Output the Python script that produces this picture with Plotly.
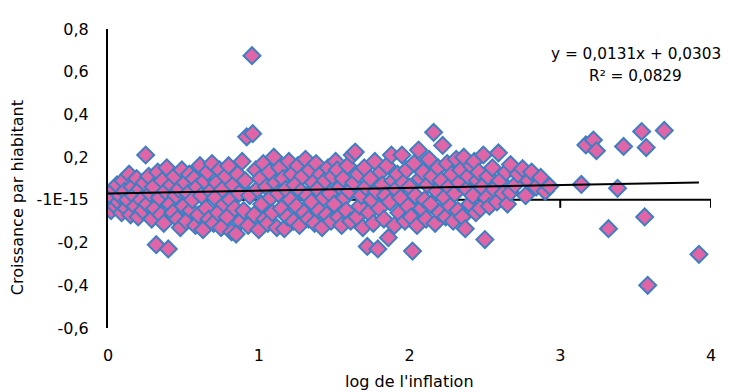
import plotly.graph_objects as go

# log de l'inflation (x) / croissance par habitant (y)
log_inflation = [
    0.00, 0.01, 0.02, 0.03, 0.04, 0.05, 0.06, 0.07, 0.08, 0.09,
    0.10, 0.11, 0.12, 0.13, 0.14, 0.15, 0.16, 0.17, 0.18, 0.19,
    0.20, 0.21, 0.22, 0.23, 0.24, 0.25, 0.26, 0.27, 0.28, 0.29,
    0.30, 0.31, 0.32, 0.33, 0.34, 0.35, 0.36, 0.37, 0.38, 0.39,
    0.40, 0.41, 0.42, 0.43, 0.44, 0.45, 0.46, 0.47, 0.48, 0.49,
    0.50, 0.51, 0.52, 0.53, 0.54, 0.55, 0.56, 0.57, 0.58, 0.59,
    0.60, 0.61, 0.62, 0.63, 0.64,
    0.65, 0.66, 0.67, 0.68, 0.69, 0.70, 0.71, 0.72, 0.73, 0.74,
    0.75, 0.76, 0.77, 0.78, 0.79, 0.80, 0.81, 0.82, 0.83, 0.84,
    0.85, 0.86, 0.87, 0.88, 0.89, 0.90, 0.91, 0.92, 0.93, 0.94,
    0.955, 0.96, 0.97, 0.98, 0.99, 1.00, 1.01, 1.02, 1.03, 1.04,
    1.05, 1.06, 1.07, 1.08, 1.09, 1.10, 1.11, 1.12, 1.13, 1.14,
    1.15, 1.16, 1.17, 1.18, 1.19, 1.20, 1.21, 1.22, 1.23, 1.24,
    1.25, 1.26, 1.27, 1.28, 1.29, 1.30, 1.31, 1.32, 1.33, 1.34,
    1.35, 1.36, 1.37, 1.38, 1.39, 1.40, 1.41, 1.42, 1.43, 1.44,
    1.45, 1.46, 1.47, 1.48, 1.49,
    1.50, 1.51, 1.52, 1.53, 1.54, 1.55, 1.56, 1.57, 1.58, 1.59,
    1.60, 1.61, 1.62, 1.63, 1.64, 1.65, 1.66, 1.67, 1.68, 1.69,
    1.70, 1.71, 1.72, 1.73, 1.74, 1.75, 1.76, 1.77, 1.78, 1.79,
    1.80, 1.81, 1.82, 1.83, 1.84, 1.85, 1.86, 1.87, 1.88, 1.89,
    1.90, 1.91, 1.92, 1.93, 1.94, 1.95, 1.96, 1.97, 1.98, 1.99,
    2.00, 2.01, 2.02, 2.03, 2.04, 2.05, 2.06, 2.07, 2.08, 2.09,
    2.10, 2.11, 2.12, 2.13, 2.14, 2.15, 2.16, 2.17, 2.18, 2.19,
    2.20, 2.21, 2.22, 2.23, 2.24, 2.25, 2.26, 2.27, 2.28, 2.29,
    2.30, 2.31, 2.32, 2.33, 2.34, 2.35, 2.36, 2.37, 2.38, 2.39,
    2.40, 2.41, 2.42, 2.43, 2.44, 2.45, 2.46, 2.47, 2.48, 2.49,
    2.50, 2.51, 2.52, 2.53, 2.55, 2.56, 2.58, 2.59, 2.60, 2.62,
    2.64, 2.65, 2.67, 2.67, 2.70, 2.72, 2.75, 2.77, 2.79, 2.81,
    2.84, 2.87, 2.90, 2.93,
    3.14, 3.17, 3.22, 3.24, 3.32, 3.38, 3.42, 3.54, 3.56, 3.57,
    3.58, 3.69, 3.92,
]

croissance = [
    -0.02, 0.03, -0.05, 0.01, 0.05, -0.03, 0.07, -0.01, 0.02, -0.06,
    0.09, 0.04, -0.04, 0.00, 0.12, -0.07, 0.06, 0.02, -0.03, 0.10,
    -0.08, 0.05, 0.00, -0.05, 0.08, 0.21, -0.02, 0.11, 0.03, -0.09,
    0.06, -0.04, -0.21, 0.13, 0.01, -0.07, 0.09, -0.11, 0.04, 0.15,
    -0.23, -0.02, 0.07, -0.06, 0.11, 0.02, -0.09, 0.05, -0.13, 0.14,
    -0.03, 0.08, -0.10, 0.03, 0.12, -0.05, 0.00, 0.10, -0.12, 0.06,
    -0.07, 0.16, 0.02, -0.14, 0.09,
    -0.04, 0.13, -0.09, 0.04, 0.17, -0.11, 0.01, 0.08, -0.06, 0.14,
    -0.13, 0.05, -0.02, 0.11, -0.08, 0.16, 0.00, -0.15, 0.07, -0.04,
    -0.16, 0.12, 0.03, -0.10, 0.18, -0.05, 0.09, 0.295, -0.12, 0.02,
    0.675, 0.31, -0.07, 0.14, 0.05, -0.14, 0.10, -0.02, 0.17, -0.09,
    0.06, -0.11, 0.13, 0.01, -0.06, 0.20, 0.08, -0.13, 0.03, 0.15,
    -0.04, 0.10, -0.135, 0.05, -0.08, 0.18, 0.00, 0.12, -0.10, 0.07,
    -0.03, 0.16, -0.12, 0.04, 0.11, -0.06, 0.19, 0.02, -0.09, 0.14,
    -0.01, 0.08, -0.11, 0.17, 0.05, -0.05, 0.12, -0.13, 0.01, 0.09,
    -0.07, 0.15, 0.03, -0.10, 0.11,
    -0.02, 0.18, 0.14, -0.08, 0.06, -0.12, 0.10, 0.01, -0.05, 0.16,
    0.04, -0.10, 0.21, 0.08, 0.224, -0.08, 0.12, -0.03, 0.02, -0.13,
    0.15, 0.06, -0.218, -0.06, 0.10, 0.00, -0.11, 0.18, 0.04, -0.23,
    -0.04, 0.13, 0.07, -0.09, 0.02, 0.16, -0.177, -0.01, 0.21, 0.09,
    -0.12, 0.05, 0.12, -0.06, 0.01, 0.21, 0.08, -0.10, 0.14, -0.03,
    0.06, -0.08, -0.24, 0.17, 0.02, -0.12, 0.233, 0.10, -0.04, 0.13,
    0.00, -0.09, 0.07, 0.19, -0.02, 0.11, 0.316, -0.11, 0.04, 0.15,
    -0.06, 0.09, 0.255, 0.01, -0.08, 0.17, 0.06, -0.03, 0.12, -0.10,
    0.03, 0.19, -0.05, 0.08, 0.14, -0.08, 0.20, -0.135, 0.05, 0.11,
    -0.02, 0.16, 0.02, 0.18, -0.06, 0.09, 0.13, -0.04, 0.06, 0.21,
    -0.186, 0.01, 0.11, -0.03, 0.15, 0.05, -0.01, 0.22, 0.09, 0.03,
    0.13, -0.02, 0.165, 0.035, 0.07, 0.12, 0.146, 0.02, 0.09, 0.13,
    0.06, 0.105, 0.04, 0.063,
    0.072, 0.257, 0.28, 0.23, -0.135, 0.054, 0.25, 0.32, -0.08, 0.245,
    -0.40, 0.325, -0.255,
]

# linear trend shown on the chart
slope = 0.0131
intercept = 0.0303
trend_x = [min(log_inflation), max(log_inflation)]
trend_y = [slope * v + intercept for v in trend_x]

y_ticks = [0.8, 0.6, 0.4, 0.2, 0, -0.2, -0.4, -0.6]
y_tick_text = ["0,8", "0,6", "0,4", "0,2", "-1E-15", "-0,2", "-0,4", "-0,6"]
x_ticks = [0, 1, 2, 3, 4]

font = dict(family="DejaVu Sans", size=16, color="black")
eq_font = dict(family="DejaVu Sans", size=15.3, color="black")

fig = go.Figure()

fig.add_trace(
    go.Scatter(
        x=log_inflation,
        y=croissance,
        mode="markers",
        marker=dict(symbol="diamond", size=13, color="#E065A6",
                    line=dict(color="#3E7EC3", width=2)),
        showlegend=False
    ))

fig.add_trace(
    go.Scatter(
        x=trend_x,
        y=trend_y,
        mode="lines",
        line=dict(color="black", width=2),
        showlegend=False
    ))

# horizontal axis drawn at y = 0, behind the markers
shapes = [dict(type="line", xref="x", yref="y", x0=0, x1=4, y0=0, y1=0,
               line=dict(color="black", width=2), layer="below")]
for t in x_ticks:
    shapes.append(dict(type="line", xref="x", yref="y", ysizemode="pixel",
                       yanchor=0, x0=t, x1=t, y0=0, y1=-8,
                       line=dict(color="black", width=2), layer="below"))

# the page has an 8px body margin, so the figure is 8px smaller
fig.update_layout(
    width=722, height=384,
    margin=dict(l=100, r=19, t=16, b=64),
    paper_bgcolor="white", plot_bgcolor="white",
    font=font,
    shapes=shapes,
    xaxis=dict(range=[0, 4], tickvals=x_ticks, showgrid=False, zeroline=False,
               showline=False, ticks="", ticklabelstandoff=16),
    yaxis=dict(range=[-0.6, 0.8], tickvals=y_ticks, ticktext=y_tick_text,
               showgrid=False, zeroline=False, showline=True,
               linecolor="black", linewidth=2, ticks="", ticklabelstandoff=14),
    annotations=[
        dict(text="log de l'inflation", xref="paper", yref="paper",
             x=0.5, y=-0.18, xanchor="center", yanchor="middle",
             showarrow=False),
        dict(text="Croissance par hiabitant", xref="paper", yref="paper",
             x=-0.151, y=0.4375, xanchor="center", yanchor="middle",
             textangle=-90, showarrow=False),
        dict(text="y = 0,0131x + 0,0303", xref="paper", yref="paper",
             x=0.8756, y=0.9178, xanchor="center", yanchor="middle",
             showarrow=False, font=eq_font),
        dict(text="R² = 0,0829", xref="paper", yref="paper",
             x=0.8756, y=0.842, xanchor="center", yanchor="middle",
             showarrow=False, font=eq_font),
    ]
)

fig.write_html("out.html")
